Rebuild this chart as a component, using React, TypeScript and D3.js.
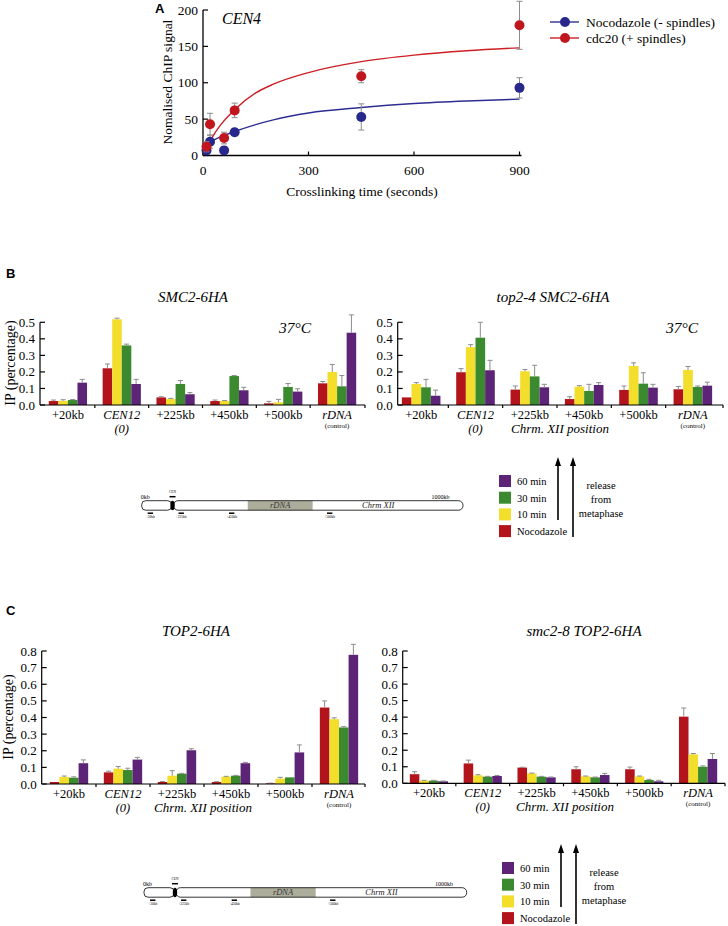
import React from 'react';
import * as d3 from 'd3';

const SERIF = '"Liberation Serif", "Times New Roman", serif';
const SANS = '"Liberation Sans", Arial, sans-serif';

// ---- Panel A: CEN4 ChIP signal vs crosslinking time
const timesA = [10, 20, 60, 90, 450, 900];
const nocoA = [7, 19, 7, 32, 53, 93];
const nocoErrA = [5, 9, 5, 5, 18, 14];
const cdcA = [12, 43, 24, 62, 109, 179];
const cdcErrA = [7, 15, 8, 10, 9, 33];
// fitted curves
const fitTimesCdc = [10, 25, 50, 90, 150, 200, 300, 450, 600, 750, 900];
const fitCdc = [10, 24, 42, 63, 86, 98, 114, 129, 138, 144, 148];
const fitTimesNoco = [20, 50, 90, 150, 200, 300, 450, 600, 750, 900];
const fitNoco = [19, 25.5, 33, 42.5, 49, 58.5, 66, 71.5, 75, 77.5];
const ticksXA = [0, 300, 600, 900];
const ticksYA = [0, 50, 100, 150, 200];

// ---- bar panels
const categories = ['+20kb', 'CEN12', '+225kb', '+450kb', '+500kb', 'rDNA'];
const subLabels = ['', '(0)', '', '', '', '(control)'];
const seriesNames = ['Nocodazole', '10 min', '30 min', '60 min'];
const seriesColors = ['#b3141c', '#f3de2c', '#3c8a30', '#5d2377'];
const ticksB = [0, 0.1, 0.2, 0.3, 0.4, 0.5];
const ticksC = [0, 0.1, 0.2, 0.3, 0.4, 0.5, 0.6, 0.7, 0.8];

// B left: SMC2-6HA (value, top of error bar)
const smc2Noc = [0.024, 0.222, 0.046, 0.024, 0.010, 0.131];
const smc2NocTop = [0.030, 0.248, 0.050, 0.030, 0.022, 0.142];
const smc2T10 = [0.025, 0.518, 0.036, 0.024, 0.016, 0.200];
const smc2T10Top = [0.032, 0.525, 0.040, 0.027, 0.034, 0.245];
const smc2T30 = [0.030, 0.360, 0.127, 0.175, 0.109, 0.113];
const smc2T30Top = [0.033, 0.368, 0.148, 0.178, 0.130, 0.178];
const smc2T60 = [0.135, 0.127, 0.065, 0.089, 0.081, 0.437];
const smc2T60Top = [0.155, 0.155, 0.075, 0.107, 0.098, 0.545];

// B right: top2-4 SMC2-6HA
const top24Noc = [0.046, 0.198, 0.093, 0.036, 0.091, 0.095];
const top24NocTop = [0.046, 0.220, 0.115, 0.050, 0.115, 0.112];
const top24T10 = [0.127, 0.350, 0.204, 0.111, 0.236, 0.212];
const top24T10Top = [0.135, 0.365, 0.215, 0.117, 0.255, 0.233];
const top24T30 = [0.107, 0.407, 0.173, 0.085, 0.129, 0.109];
const top24T30Top = [0.155, 0.500, 0.240, 0.125, 0.195, 0.115];
const top24T60 = [0.056, 0.210, 0.107, 0.121, 0.105, 0.117];
const top24T60Top = [0.090, 0.270, 0.125, 0.135, 0.125, 0.138];

// C left: TOP2-6HA
const top2Noc = [0.012, 0.070, 0.012, 0.012, 0.004, 0.460];
const top2NocTop = [0.012, 0.077, 0.015, 0.014, 0.005, 0.500];
const top2T10 = [0.042, 0.092, 0.050, 0.044, 0.032, 0.390];
const top2T10Top = [0.048, 0.105, 0.080, 0.046, 0.040, 0.398];
const top2T30 = [0.038, 0.084, 0.062, 0.050, 0.040, 0.340];
const top2T30Top = [0.043, 0.095, 0.064, 0.052, 0.040, 0.345];
const top2T60 = [0.125, 0.147, 0.203, 0.125, 0.190, 0.777];
const top2T60Top = [0.145, 0.160, 0.212, 0.130, 0.235, 0.840];

// C right: smc2-8 TOP2-6HA
const smc28Noc = [0.055, 0.120, 0.095, 0.085, 0.085, 0.403];
const smc28NocTop = [0.070, 0.140, 0.097, 0.100, 0.098, 0.455];
const smc28T10 = [0.016, 0.048, 0.060, 0.042, 0.042, 0.175];
const smc28T10Top = [0.018, 0.052, 0.062, 0.044, 0.044, 0.180];
const smc28T30 = [0.016, 0.040, 0.040, 0.036, 0.020, 0.100];
const smc28T30Top = [0.018, 0.042, 0.042, 0.038, 0.024, 0.105];
const smc28T60 = [0.012, 0.044, 0.036, 0.050, 0.012, 0.147];
const smc28T60Top = [0.014, 0.047, 0.038, 0.060, 0.018, 0.180];

// chromosome XII cartoon (positions along the drawn bar, kb)
const cenKb = 96;
const rdnaKb = [330, 532];
const probeKb = [27, 123, 280, 585];
const probeLabels = ['+20kb', '+225kb', '+450kb', '+500kb'];

const ERR = '#8c8c8c';

function PanelA() {
  const x = d3.scaleLinear().domain([0, 900]).range([203, 519.5]);
  const y = d3.scaleLinear().domain([0, 200]).range([155.5, 10]);
  const line = d3.line<[number, number]>().x(d => x(d[0])).y(d => y(d[1])).curve(d3.curveMonotoneX);
  const cdcCurve = fitTimesCdc.map((t, i) => [t, fitCdc[i]] as [number, number]);
  const nocoCurve = fitTimesNoco.map((t, i) => [t, fitNoco[i]] as [number, number]);
  const series = [
    { vals: nocoA, errs: nocoErrA, color: '#28288c' },
    { vals: cdcA, errs: cdcErrA, color: '#c0161d' },
  ];
  return (
    <g fontFamily={SERIF}>
      <text x={155} y={13} fontFamily={SANS} fontWeight="bold" fontSize={13}>A</text>
      <line x1={203} x2={203} y1={y(200)} y2={y(0)} stroke="#000" strokeWidth={1.3} />
      <line x1={203} x2={x(900) + 2} y1={y(0)} y2={y(0)} stroke="#000" strokeWidth={1.3} />
      {ticksYA.map(t => (
        <g key={t}>
          <line x1={203} x2={208} y1={y(t)} y2={y(t)} stroke="#000" strokeWidth={1.2} />
          <text x={198} y={y(t) + 4.5} textAnchor="end" fontSize={13.5}>{t}</text>
        </g>
      ))}
      {ticksXA.map(t => (
        <g key={t}>
          <line x1={x(t)} x2={x(t)} y1={y(0)} y2={y(0) - 4} stroke="#000" strokeWidth={1.2} />
          <text x={x(t)} y={175} textAnchor="middle" fontSize={13.5}>{t}</text>
        </g>
      ))}
      <text x={362} y={196} textAnchor="middle" fontSize={13.5}>Crosslinking time (seconds)</text>
      <text transform="translate(172,82) rotate(-90)" textAnchor="middle" fontSize={13.5}>Nomalised ChIP signal</text>
      <text x={222} y={24} fontSize={16} fontStyle="italic">CEN4</text>
      <path d={line(cdcCurve) || ''} fill="none" stroke="#cc1f26" strokeWidth={1.4} />
      <path d={line(nocoCurve) || ''} fill="none" stroke="#2e2e92" strokeWidth={1.4} />
      {series.map((s, si) => (
        <g key={si}>
          {timesA.map((t, i) => {
            const cx = x(t);
            const hi = y(s.vals[i] + s.errs[i]);
            const lo = y(Math.max(0, s.vals[i] - s.errs[i]));
            return (
              <g key={i}>
                <line x1={cx} x2={cx} y1={hi} y2={lo} stroke={ERR} strokeWidth={1} />
                <line x1={cx - 3} x2={cx + 3} y1={hi} y2={hi} stroke={ERR} strokeWidth={1} />
                <line x1={cx - 3} x2={cx + 3} y1={lo} y2={lo} stroke={ERR} strokeWidth={1} />
                <circle cx={cx} cy={y(s.vals[i])} r={5} fill={s.color} />
              </g>
            );
          })}
        </g>
      ))}
      {[
        { label: 'Nocodazole (- spindles)', color: '#28288c', line: '#2e2e92', ly: 22 },
        { label: 'cdc20 (+ spindles)', color: '#c0161d', line: '#cc1f26', ly: 38 },
      ].map(l => (
        <g key={l.label}>
          <line x1={550} x2={579} y1={l.ly} y2={l.ly} stroke={l.line} strokeWidth={1.4} />
          <circle cx={565} cy={l.ly} r={5} fill={l.color} />
          <text x={586} y={l.ly + 4.5} fontSize={13.5}>{l.label}</text>
        </g>
      ))}
    </g>
  );
}

interface BarPanelProps {
  values: number[][];
  tops: number[][];
  axisX: number;
  axisEnd: number;
  y0: number;
  maxVal: number;
  maxPx: number;
  ticks: number[];
  band: [number, number];
  title: string;
  titlePos: [number, number];
  temp?: [number, number];
  posLabel?: [number, number];
  yLabel?: [number, number];
}

function BarPanel(p: BarPanelProps) {
  const y = d3.scaleLinear().domain([0, p.maxVal]).range([p.y0, p.maxPx]);
  const x0 = d3.scaleBand().domain(categories).range(p.band).paddingInner(0.29).paddingOuter(0.145);
  const x1 = d3.scaleBand().domain(seriesNames).range([0, x0.bandwidth()]);
  const centers = categories.map(c => (x0(c) || 0) + x0.bandwidth() / 2);
  const bounds = centers.slice(1).map((c, i) => (c + centers[i]) / 2).concat([p.axisEnd]);
  const fmt = d3.format('.1f');
  return (
    <g fontFamily={SERIF}>
      <text x={p.titlePos[0]} y={p.titlePos[1]} textAnchor="middle" fontStyle="italic" fontSize={15}>{p.title}</text>
      {p.temp && (
        <text x={p.temp[0]} y={p.temp[1]} textAnchor="middle" fontStyle="italic" fontSize={15.5}>37°C</text>
      )}
      {p.yLabel && (
        <text transform={`translate(${p.yLabel[0] + 5},${p.yLabel[1]}) rotate(-90)`} textAnchor="middle" fontSize={14}>IP (percentage)</text>
      )}
      {seriesNames.map((s, si) =>
        categories.map((c, ci) => {
          const v = p.values[si][ci];
          const top = p.tops[si][ci];
          const bx = (x0(c) || 0) + (x1(s) || 0);
          const cx = bx + x1.bandwidth() / 2;
          return (
            <g key={s + c}>
              <rect x={bx} y={y(v)} width={x1.bandwidth()} height={p.y0 - y(v)} fill={seriesColors[si]} />
              {top > v + 0.0005 && (
                <g>
                  <line x1={cx} x2={cx} y1={y(v)} y2={y(top)} stroke={ERR} strokeWidth={1} />
                  <line x1={cx - 2.5} x2={cx + 2.5} y1={y(top)} y2={y(top)} stroke={ERR} strokeWidth={1} />
                </g>
              )}
            </g>
          );
        })
      )}
      <line x1={p.axisX} x2={p.axisX} y1={p.maxPx} y2={p.y0} stroke="#000" strokeWidth={1.2} />
      <line x1={p.axisX} x2={p.axisEnd} y1={p.y0} y2={p.y0} stroke="#000" strokeWidth={1.2} />
      {p.ticks.map(t => (
        <g key={t}>
          <line x1={p.axisX} x2={p.axisX + 5} y1={y(t)} y2={y(t)} stroke="#000" strokeWidth={1.2} />
          <text x={p.axisX - 5} y={y(t) + 4.5} textAnchor="end" fontSize={13}>{fmt(t)}</text>
        </g>
      ))}
      {bounds.map((b, i) => (
        <line key={i} x1={b} x2={b} y1={p.y0} y2={p.y0 + 3} stroke="#000" strokeWidth={1.2} />
      ))}
      {categories.map((c, ci) => {
        const italic = c === 'CEN12' || c === 'rDNA';
        return (
          <g key={c}>
            <text x={centers[ci]} y={p.y0 + 14} textAnchor="middle" fontSize={12.5} fontStyle={italic ? 'italic' : 'normal'}>{c}</text>
            {subLabels[ci] === '(0)' && (
              <text x={centers[ci]} y={p.y0 + 28} textAnchor="middle" fontSize={12.5} fontStyle="italic">{subLabels[ci]}</text>
            )}
            {subLabels[ci] === '(control)' && (
              <text x={centers[ci]} y={p.y0 + 23} textAnchor="middle" fontSize={7}>{subLabels[ci]}</text>
            )}
          </g>
        );
      })}
      {p.posLabel && (
        <text x={p.posLabel[0]} y={p.posLabel[1]} textAnchor="middle" fontStyle="italic" fontSize={13}>Chrm. XII position</text>
      )}
    </g>
  );
}

function Chromosome({ ox, oy, w }: { ox: number; oy: number; w: number }) {
  const k = d3.scaleLinear().domain([0, 1000]).range([ox, ox + w]);
  const h = 9.5;
  const cen = k(cenKb);
  return (
    <g fontFamily={SERIF}>
      <rect x={k(rdnaKb[0])} y={oy} width={k(rdnaKb[1]) - k(rdnaKb[0])} height={h} fill="#adad9c" />
      <rect x={ox} y={oy} width={cen - ox - 1} height={h} rx={4} fill="none" stroke="#000" strokeWidth={0.8} />
      <rect x={cen + 1} y={oy} width={ox + w - cen - 1} height={h} rx={4.5} fill="none" stroke="#000" strokeWidth={0.8} />
      <ellipse cx={cen} cy={oy + h / 2} rx={2.2} ry={h / 2} fill="#000" />
      <text x={(k(rdnaKb[0]) + k(rdnaKb[1])) / 2} y={oy + 7.5} textAnchor="middle" fontStyle="italic" fontSize={8.5} fill="#333">rDNA</text>
      <text x={k(736)} y={oy + 7.5} textAnchor="middle" fontStyle="italic" fontSize={8.5} fill="#222">Chrm XII</text>
      <text x={ox - 1} y={oy - 1.5} fontSize={6}>0kb</text>
      <text x={k(930)} y={oy - 1.5} textAnchor="middle" fontSize={6}>1000kb</text>
      <line x1={cen - 3} x2={cen + 3} y1={oy - 4} y2={oy - 4} stroke="#000" strokeWidth={1.5} />
      <text x={cen} y={oy - 8} textAnchor="middle" fontSize={3.5}>CEN</text>
      {probeKb.map((pk, i) => (
        <g key={pk}>
          <line x1={k(pk) - 2.7} x2={k(pk) + 2.7} y1={oy + 12.5} y2={oy + 12.5} stroke="#000" strokeWidth={1.5} />
          <text x={k(pk)} y={oy + 17.5} textAnchor="middle" fontSize={3.5}>{probeLabels[i]}</text>
        </g>
      ))}
    </g>
  );
}

function Legend({ sx, sy }: { sx: number; sy: number }) {
  const order = [3, 2, 1, 0];
  return (
    <g fontFamily={SERIF} fontSize={10.5}>
      {order.map((si, i) => (
        <g key={si}>
          <rect x={sx} y={sy + i * 16.7} width={12} height={12} fill={seriesColors[si]} />
          <text x={sx + 18} y={sy + i * 16.7 + 10}>{seriesNames[si]}</text>
        </g>
      ))}
      <line x1={sx + 59} x2={sx + 59} y1={sy + 45} y2={sy - 10} stroke="#000" strokeWidth={1.6} />
      <path d={`M${sx + 56},${sy - 9} L${sx + 59},${sy - 18} L${sx + 62},${sy - 9} Z`} fill="#000" />
      <line x1={sx + 74} x2={sx + 74} y1={sy + 62} y2={sy - 10} stroke="#000" strokeWidth={1.6} />
      <path d={`M${sx + 71},${sy - 9} L${sx + 74},${sy - 18} L${sx + 77},${sy - 9} Z`} fill="#000" />
      <text x={sx + 102} y={sy + 14} textAnchor="middle">release</text>
      <text x={sx + 102} y={sy + 28} textAnchor="middle">from</text>
      <text x={sx + 102} y={sy + 42} textAnchor="middle">metaphase</text>
    </g>
  );
}

export default function App() {
  return (
    <svg width={728} height={926} viewBox="0 0 728 926" style={{ position: 'absolute', left: 0, top: 0, display: 'block' }}>
      <rect width={728} height={926} fill="#fff" />
      <PanelA />

      <text x={6} y={278} fontFamily={SANS} fontWeight="bold" fontSize={13}>B</text>
      <BarPanel
        values={[smc2Noc, smc2T10, smc2T30, smc2T60]}
        tops={[smc2NocTop, smc2T10Top, smc2T30Top, smc2T60Top]}
        axisX={40} axisEnd={365} y0={405} maxVal={0.5} maxPx={322.3} ticks={ticksB}
        band={[41, 364]} title="SMC2-6HA" titlePos={[193, 302]} temp={[295, 333]} yLabel={[10, 363]}
      />
      <BarPanel
        values={[top24Noc, top24T10, top24T30, top24T60]}
        tops={[top24NocTop, top24T10Top, top24T30Top, top24T60Top]}
        axisX={397.7} axisEnd={723} y0={405} maxVal={0.5} maxPx={322.3} ticks={ticksB}
        band={[394, 720]} title="top2-4 SMC2-6HA" titlePos={[553, 302]} temp={[682, 333]} posLabel={[560, 433]}
      />
      <Chromosome ox={141.7} oy={500.7} w={321.3} />
      <Legend sx={499} sy={475} />

      <text x={6} y={615} fontFamily={SANS} fontWeight="bold" fontSize={13}>C</text>
      <BarPanel
        values={[top2Noc, top2T10, top2T30, top2T60]}
        tops={[top2NocTop, top2T10Top, top2T30Top, top2T60Top]}
        axisX={41.7} axisEnd={365} y0={784} maxVal={0.8} maxPx={651} ticks={ticksC}
        band={[42, 366]} title="TOP2-6HA" titlePos={[196, 636]} yLabel={[8, 717]} posLabel={[203, 812]}
      />
      <BarPanel
        values={[smc28Noc, smc28T10, smc28T30, smc28T60]}
        tops={[smc28NocTop, smc28T10Top, smc28T30Top, smc28T60Top]}
        axisX={402.7} axisEnd={725} y0={783.3} maxVal={0.8} maxPx={651} ticks={ticksC}
        band={[402, 725]} title="smc2-8 TOP2-6HA" titlePos={[584, 636]} posLabel={[565, 811]}
      />
      <Chromosome ox={144} oy={887.7} w={322.7} />
      <Legend sx={502} sy={862} />
    </svg>
  );
}
